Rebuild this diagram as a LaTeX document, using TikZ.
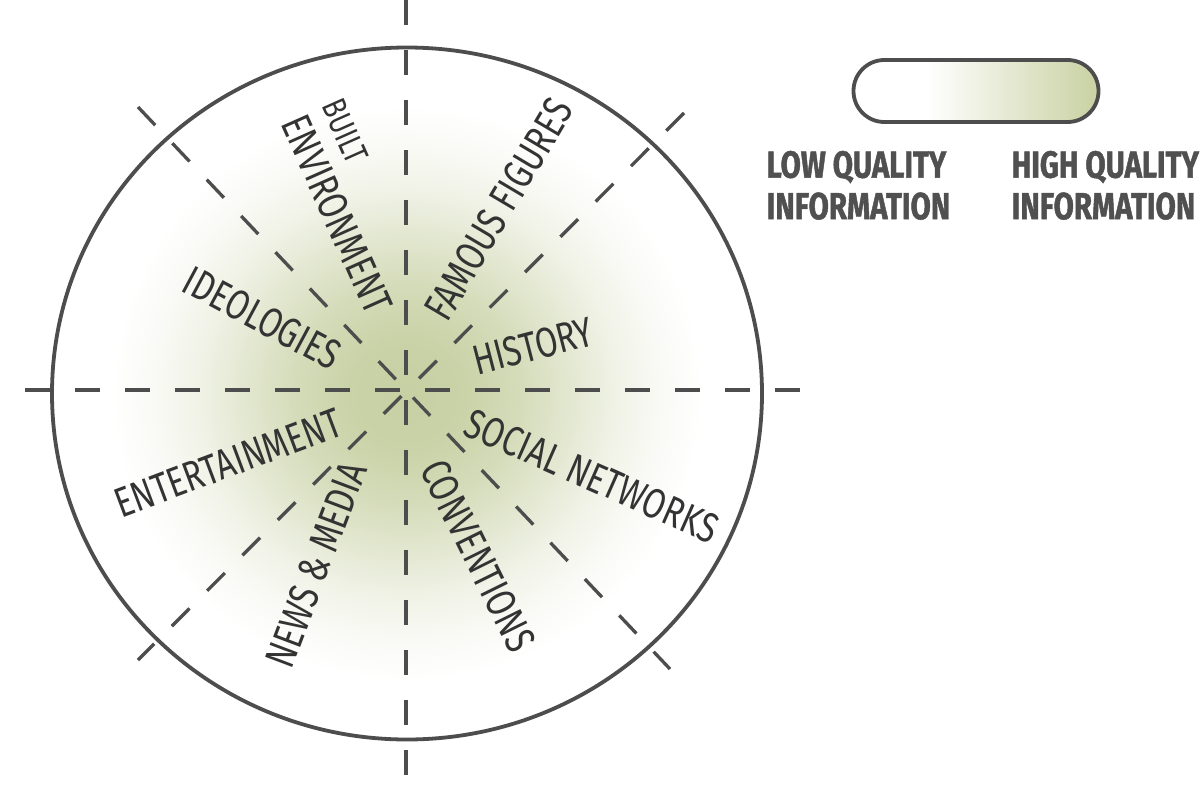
\documentclass[tikz,border=0pt]{standalone}
\usepackage{fontspec}
\setmainfont{Fira Sans}
\newfontfamily\labelfont[FakeStretch=0.77]{Fira Sans}
\newfontfamily\legendfont[FakeStretch=0.78,FakeBold=1.2]{Fira Sans}
\usetikzlibrary{shapes.geometric}
\definecolor{ink}{HTML}{4D4D4D}
\definecolor{txt}{HTML}{333333}
\definecolor{legendink}{HTML}{505050}
\definecolor{sage}{HTML}{C7D0A3}
\definecolor{sagebar}{HTML}{CBD3A6}
\pgfdeclareradialshading{glow}{\pgfpoint{0bp}{0bp}}{color(0bp)=(sage); color(4bp)=(sage!95!white); color(8bp)=(sage!75!white); color(11.5bp)=(sage!50!white); color(15bp)=(sage!25!white); color(18bp)=(sage!10!white); color(20.8bp)=(white); color(50bp)=(white)}
\pgfdeclarehorizontalshading{barfade}{100bp}{color(0bp)=(white); color(40bp)=(white); color(73.5bp)=(sagebar); color(100bp)=(sagebar)}
\tikzset{
  lbl/.style={font=\labelfont\fontsize{42}{42}\selectfont, text=txt, inner sep=0},
  axisline/.style={draw=ink, line width=3.3, dash pattern=on 25pt off 25pt},
  legendtext/.style={font=\legendfont\bfseries\fontsize{37.7}{41.5}\selectfont, text=legendink, align=left, inner sep=0, anchor=north west}
}
\begin{document}
\begin{tikzpicture}[x=1pt,y=-1pt]
\useasboundingbox (0,0) rectangle (1202,800);
% wheel with glow
\node[ellipse, minimum width=710, minimum height=692, inner sep=0, shading=glow] (glowdisc) at (407,393.5) {};
% axes
\coordinate (h1) at (25,390);  \coordinate (h2) at (800,390);
\coordinate (v1) at (406,0);   \coordinate (v2) at (406,775);
\coordinate (d1) at (138,107); \coordinate (d2) at (670,669);
\coordinate (e1) at (684,113); \coordinate (e2) at (138,660);
\draw[axisline] (h1) -- (h2);
\draw[axisline] (v1) -- (v2);
\draw[axisline] (d1) -- (d2);
\draw[axisline] (e1) -- (e2);
\node[ellipse, draw=ink, line width=3.8, minimum width=710, minimum height=692, inner sep=0] (wheel) at (407,393.5) {};
% labels
\node[lbl, rotate=-66] (env) at (337,214) {ENVIRONMENT};
\node[lbl, font=\labelfont\fontsize{34}{34}\selectfont, rotate=-66] (built) at (345,131) {BUILT};
\node[lbl, rotate=59.3] (fam) at (499,209) {FAMOUS FIGURES};
\node[lbl, rotate=14.5] (hist) at (533,346) {HISTORY};
\node[lbl, rotate=-28.2] (ideo) at (262,318) {IDEOLOGIES};
\node[lbl, rotate=20.5] (ent) at (228,463) {ENTERTAINMENT};
\node[lbl, rotate=69.3] (news) at (316,565) {NEWS \& MEDIA};
\node[lbl, rotate=-63.7] (conv) at (478,556) {CONVENTIONS};
\node[lbl, rotate=-23.8] (soc) at (592,476) {SOCIAL NETWORKS};
% legend
\node[draw=ink, line width=3.8, rounded corners=30.9, minimum width=245, minimum height=62, inner sep=0, shading=barfade] (bar) at (976,91) {};
\node[legendtext] (low) at (766.5,150.7) {LOW QUALITY\\INFORMATION};
\node[legendtext] (high) at (1011.5,150.7) {HIGH QUALITY\\INFORMATION};
\end{tikzpicture}
\end{document}
